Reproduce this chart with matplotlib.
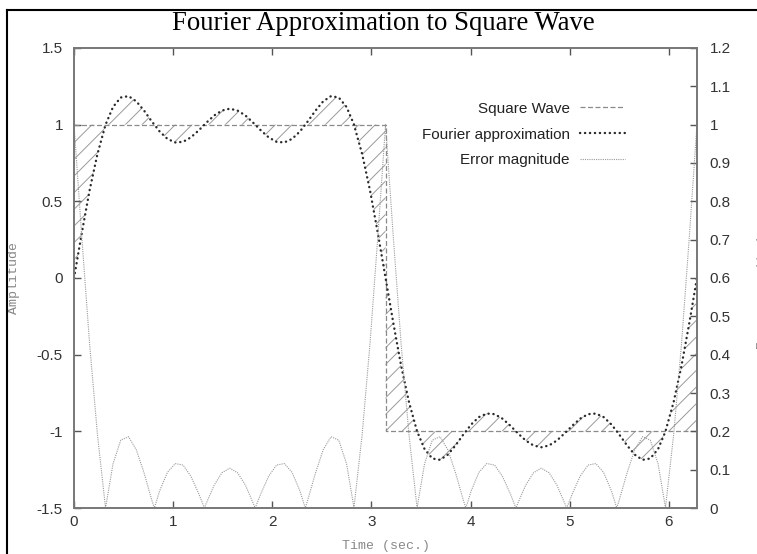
import matplotlib
matplotlib.use("Agg")
import matplotlib.pyplot as plt
from matplotlib.lines import Line2D
from matplotlib.ticker import FuncFormatter

# samples (first half: 0..pi, second half: pi..2pi)
t_first = [0.000, 0.079, 0.157, 0.236, 0.314, 0.318, 0.393, 0.471, 0.550, 0.628,
           0.707, 0.785, 0.810, 0.864, 0.942, 1.021, 1.100, 1.178, 1.257, 1.315,
           1.335, 1.414, 1.492, 1.571, 1.649, 1.728, 1.806, 1.827, 1.885, 1.963,
           2.042, 2.121, 2.199, 2.278, 2.332, 2.356, 2.435, 2.513, 2.592, 2.670,
           2.749, 2.824, 2.827, 2.906, 2.985, 3.063, 3.142]
t_second = [3.142, 3.221, 3.299, 3.378, 3.456, 3.460, 3.535, 3.613, 3.692, 3.770,
            3.849, 3.927, 3.952, 4.006, 4.084, 4.163, 4.242, 4.320, 4.399, 4.457,
            4.477, 4.556, 4.634, 4.712, 4.791, 4.870, 4.948, 4.969, 5.027, 5.105,
            5.184, 5.263, 5.341, 5.420, 5.474, 5.498, 5.577, 5.655, 5.734, 5.812,
            5.891, 5.966, 5.969, 6.048, 6.127, 6.205, 6.283]

fourier_first = [0.000, 0.296, 0.572, 0.808, 0.991, 1.000, 1.115, 1.177, 1.186, 1.152,
                 1.091, 1.020, 1.000, 0.955, 0.907, 0.884, 0.888, 0.917, 0.962, 1.000,
                 1.013, 1.060, 1.092, 1.104, 1.092, 1.060, 1.013, 1.000, 0.962, 0.917,
                 0.888, 0.884, 0.907, 0.955, 1.000, 1.020, 1.091, 1.152, 1.186, 1.177,
                 1.115, 1.000, 0.991, 0.808, 0.572, 0.296, 0.000]
fourier_second = [0.000, -0.296, -0.572, -0.808, -0.991, -1.000, -1.115, -1.177, -1.186, -1.152,
                  -1.091, -1.020, -1.000, -0.955, -0.907, -0.884, -0.888, -0.917, -0.962, -1.000,
                  -1.013, -1.060, -1.092, -1.104, -1.092, -1.060, -1.013, -1.000, -0.962, -0.917,
                  -0.888, -0.884, -0.907, -0.955, -1.000, -1.020, -1.091, -1.152, -1.186, -1.177,
                  -1.115, -1.000, -0.991, -0.808, -0.572, -0.296, 0.000]

error_first = [1.000, 0.704, 0.428, 0.192, 0.009, 0.000, 0.115, 0.177, 0.186, 0.152,
               0.091, 0.020, 0.000, 0.045, 0.093, 0.116, 0.112, 0.083, 0.038, 0.000,
               0.013, 0.060, 0.092, 0.104, 0.092, 0.060, 0.013, 0.000, 0.038, 0.083,
               0.112, 0.116, 0.093, 0.045, 0.000, 0.020, 0.091, 0.152, 0.186, 0.177,
               0.115, 0.000, 0.009, 0.192, 0.428, 0.704, 1.000]
error_second = [1.000, 0.704, 0.428, 0.192, 0.009, 0.000, 0.115, 0.177, 0.186, 0.152,
                0.091, 0.020, 0.000, 0.045, 0.093, 0.116, 0.112, 0.083, 0.038, 0.000,
                0.013, 0.060, 0.092, 0.104, 0.092, 0.060, 0.013, 0.000, 0.038, 0.083,
                0.112, 0.116, 0.093, 0.045, 0.000, 0.020, 0.091, 0.152, 0.186, 0.177,
                0.115, 0.000, 0.009, 0.192, 0.428, 0.704, 1.000]

square_first = [1.0] * len(t_first)
square_second = [-1.0] * len(t_second)

t = t_first + t_second
fourier = fourier_first + fourier_second
error = error_first + error_second
square = square_first + square_second

x_ticks = [0, 1, 2, 3, 4, 5, 6]
amp_ticks = [-1.5, -1, -0.5, 0, 0.5, 1, 1.5]
err_ticks = [0, 0.1, 0.2, 0.3, 0.4, 0.5, 0.6, 0.7, 0.8, 0.9, 1.0, 1.1, 1.2]

plt.rcParams["hatch.linewidth"] = 0.7
plt.rcParams["font.family"] = ["Liberation Sans", "DejaVu Sans"]

fig = plt.figure(figsize=(7.57, 5.54), dpi=100)
ax = fig.add_axes([0.0978, 0.0830, 0.8229, 0.8304])
ax2 = ax.twinx()

ax.fill_between(t, square, fourier, facecolor="none", edgecolor="#9a9a9a",
                hatch="//", linewidth=0)
l_sq, = ax.plot(t, square, color="#8a8a8a", lw=0.9, linestyle=(0, (4, 2)),
                label="Square Wave")
l_f, = ax.plot(t, fourier, color="#2a2a2a", lw=1.7, linestyle=(0, (0.1, 2.0)),
               dash_capstyle="round", label="Fourier approximation")
l_e, = ax2.plot(t, error, color="#9a9a9a", lw=0.8, linestyle=(0, (1, 1)),
                label="Error magnitude")

ax.set_xlim(0, 6.283)
ax.set_ylim(-1.5, 1.5)
ax2.set_ylim(0, 1.2)
ax.set_xticks(x_ticks)
ax.set_yticks(amp_ticks)
ax2.set_yticks(err_ticks)
fmt = FuncFormatter(lambda v, p: "%g" % round(v, 2))
ax.xaxis.set_major_formatter(fmt)
ax.yaxis.set_major_formatter(fmt)
ax2.yaxis.set_major_formatter(fmt)

for a in (ax, ax2):
    for s in a.spines.values():
        s.set_color("#777777")
        s.set_linewidth(1.2)
ax.tick_params(direction="in", length=5, width=1, color="#555555",
               labelsize=11, labelcolor="#333333", top=True, pad=5)
ax.tick_params(axis="y", pad=8)
ax2.tick_params(direction="in", length=5, width=1, color="#555555",
                labelsize=11, labelcolor="#333333", pad=9)

mono = ["Liberation Mono", "DejaVu Sans Mono"]
ax.set_xlabel("Time (sec.)", family=mono, fontsize=9.5, color="#888888", labelpad=8)
ax.set_ylabel("Amplitude", family=mono, fontsize=9.5, color="#888888")
ax.yaxis.set_label_coords(-0.086, 0.5)
# the right-hand label is mostly cut off by the edge of the picture
ax2.set_ylabel("Error magnitude", family=mono, fontsize=9.5, color="#888888")
ax2.yaxis.set_label_coords(1.096, 0.475)

fig.text(0.506, 1 - 30 / 554, "Fourier Approximation to Square Wave",
         family=["Liberation Serif", "DejaVu Serif"], fontsize=19.3, ha="center",
         va="baseline", color="black")

ax.legend(handles=[l_sq, l_f, l_e], loc="upper right", bbox_to_anchor=(0.884, 0.883),
          frameon=False, markerfirst=False, fontsize=11, handlelength=2.95,
          handletextpad=0.65, labelspacing=0.77, borderpad=0, borderaxespad=0,
          labelcolor="#222222")

# window border seen along the top and left edges
fig.add_artist(Line2D([7 / 757, 1], [1 - 10 / 554, 1 - 10 / 554], color="black", lw=1.5))
fig.add_artist(Line2D([7 / 757, 7 / 757], [0, 1 - 10 / 554], color="black", lw=1.5))

fig.savefig("out.png", dpi=100)
